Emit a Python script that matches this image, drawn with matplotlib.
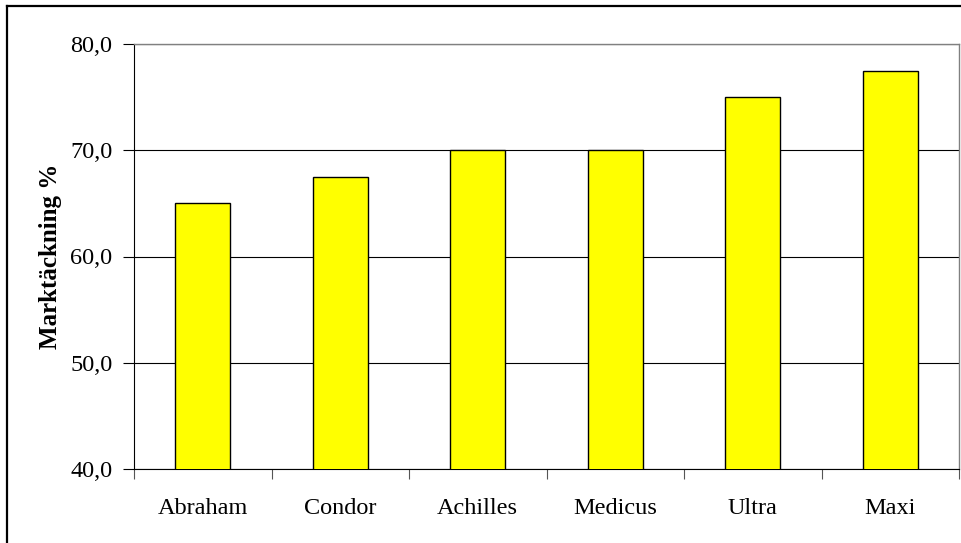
import matplotlib.pyplot as plt
from matplotlib.lines import Line2D
from matplotlib.ticker import FuncFormatter, FixedLocator

# Données
sorter = ['Abraham', 'Condor', 'Achilles', 'Medicus', 'Ultra', 'Maxi']
marktackning = [65.0, 67.5, 70.0, 70.0, 75.0, 77.5]

plt.rcParams['font.family'] = ['Liberation Serif', 'DejaVu Serif']

fig = plt.figure(figsize=(9.62, 5.43), dpi=100)
ax = fig.add_axes([134 / 962, 1 - 469 / 543, (959 - 134) / 962, (469 - 44) / 543])

x = list(range(len(sorter)))
ax.bar(x, marktackning, width=0.4, color='#FFFF00', edgecolor='black',
       linewidth=1.0, zorder=3)

ax.set_xlim(-0.5, len(sorter) - 0.5)
ax.set_ylim(40, 80)
ax.set_yticks([40, 50, 60, 70, 80])
ax.yaxis.set_major_formatter(FuncFormatter(lambda v, p: f'{v:.1f}'.replace('.', ',')))
ax.yaxis.grid(True, color='black', linewidth=0.8)

ax.set_xticks(x)
ax.set_xticklabels(sorter)
ax.xaxis.set_minor_locator(FixedLocator([i - 0.5 for i in range(len(sorter) + 1)]))
ax.tick_params(axis='x', which='major', length=0, pad=21, labelsize=17.5)
ax.tick_params(axis='x', which='minor', length=7, width=0.8, color='#555555')
ax.tick_params(axis='y', length=8, width=0.8, pad=7.5, labelsize=17.5)

for s in ['top', 'right']:
    ax.spines[s].set_color('#808080')
    ax.spines[s].set_linewidth(1.0)
for s in ['left', 'bottom']:
    ax.spines[s].set_color('black')
    ax.spines[s].set_linewidth(0.8)

ax.set_ylabel('Marktäckning %', fontsize=18, fontweight='bold', labelpad=6)

# cadre autour du graphique
fig.add_artist(Line2D([7 / 962, 1.0], [1 - 6 / 543, 1 - 6 / 543], color='black', linewidth=1.6))
fig.add_artist(Line2D([7 / 962, 7 / 962], [0.0, 1 - 6 / 543], color='black', linewidth=1.6))

fig.savefig('out.png', dpi=100)
